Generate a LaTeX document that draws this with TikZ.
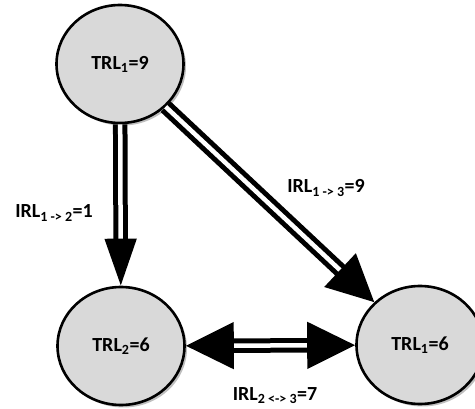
\documentclass[tikz,border=0pt]{standalone}
\usepackage{fontspec}
\setmainfont{Carlito}
\usepackage{tikz}
\usetikzlibrary{arrows.meta,shapes.geometric,shadows}
\definecolor{trlgrey}{RGB}{217,217,217}
\tikzstyle{trl} = [ellipse, draw, line width=2.6pt, fill=trlgrey, minimum width=127pt, minimum height=118pt, inner sep=0pt, font=\fontsize{20}{24}\selectfont\bfseries, drop shadow={shadow xshift=2.5pt, shadow yshift=-2.5pt, opacity=0.25, fill=black}]
\tikzstyle{irl} = [draw, line width=5pt, double=white, double distance=4.5pt]
\tikzstyle{irl-label} = [font=\fontsize{20}{24}\selectfont\bfseries]

\begin{document}
\begin{tikzpicture}[x=1pt, y=-1pt]
    \useasboundingbox (0,0) rectangle (475,409);
    \node [trl] (trl1) at (120,64) {TRL\textsubscript{1}=9};
    \node [trl] (trl2) at (121,346) {TRL\textsubscript{2}=6};
    \node [trl] (trl3) at (420,345) {TRL\textsubscript{1}=6};

    % readiness links
    \draw [irl, -{Triangle[length=47pt, width=31pt]}] (trl1) to (trl2);
    \draw [irl, -{Triangle[length=47pt, width=45pt]}] (trl1) to (trl3);
    \draw [irl, {Triangle[length=48pt, width=46pt]}-{Triangle[length=48pt, width=46pt]}] (trl2) to (trl3);

    % link labels
    \node [irl-label] (l12) at (54,213) {IRL\textsubscript{1 -> 2}=1};
    \node [irl-label] (l13) at (326,188) {IRL\textsubscript{1 -> 3}=9};
    \node [irl-label] (l23) at (275,396) {IRL\textsubscript{2 <-> 3}=7};
\end{tikzpicture}
\end{document}
